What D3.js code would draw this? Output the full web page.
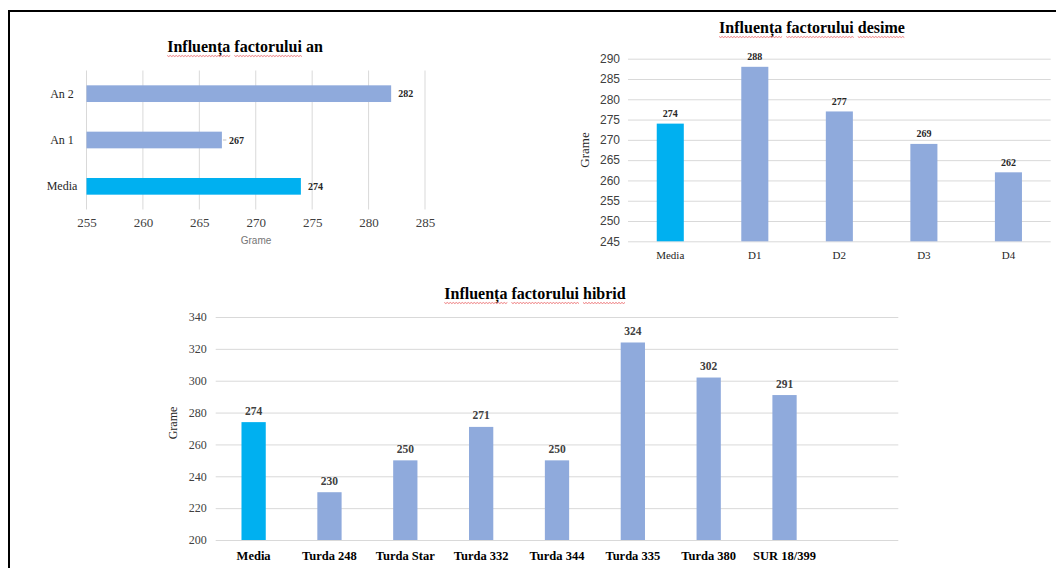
<!DOCTYPE html>
<html>
<head>
  <meta charset="UTF-8">
  <title>Influenta factorilor</title>
  <style>
    body { margin: 0; background: #fff; }
    svg { display: block; }
  </style>
</head>
<body>
  <script src="https://cdn.jsdelivr.net/npm/d3@7"></script>
  <script>
  // factorul an
  let anCategories = ["Media", "An 1", "An 2"];
  let anValues = [274, 267, 282];
  let anTicks = [255, 260, 265, 270, 275, 280, 285];

  // factorul desime
  let desCategories = ["Media", "D1", "D2", "D3", "D4"];
  let desValues = [274, 288, 277, 269, 262];
  let desTicks = [245, 250, 255, 260, 265, 270, 275, 280, 285, 290];

  // factorul hibrid
  let hibCategories = ["Media", "Turda 248", "Turda Star", "Turda 332", "Turda 344", "Turda 335", "Turda 380", "SUR 18/399"];
  let hibValues = [274, 230, 250, 271, 250, 324, 302, 291];
  let hibTicks = [200, 220, 240, 260, 280, 300, 320, 340];

  let serif = "'Liberation Serif', 'Times New Roman', serif";
  let sans = "'Liberation Sans', Arial, sans-serif";
  let cMedia = "#00b0f0", cBar = "#8faadc", cGrid = "#d9d9d9";

  let svg = d3.select("body").append("svg")
    .attr("width", 1056)
    .attr("height", 568);

  // page frame
  svg.append("line").attr("x1", 8).attr("x2", 1056).attr("y1", 11).attr("y2", 11)
    .attr("stroke", "#000").attr("stroke-width", 2);
  svg.append("line").attr("x1", 9).attr("x2", 9).attr("y1", 10).attr("y2", 568)
    .attr("stroke", "#000").attr("stroke-width", 2);

  // title, with the red spell-check squiggle under some words
  function title(x, y, txt, words) {
    let t = svg.append("text")
      .attr("x", x).attr("y", y)
      .attr("text-anchor", "middle")
      .style("font-family", serif).style("font-weight", "bold").style("font-size", "16px")
      .text(txt);
    let node = t.node();
    let x0 = x - node.getComputedTextLength() / 2;
    words.forEach(function (w) {
      let i = txt.indexOf(w);
      let a = x0 + node.getSubStringLength(0, i);
      let b = a + node.getSubStringLength(i, w.length);
      let pts = [];
      for (let p = a, k = 0; p <= b; p += 1.5, k++) pts.push([p, y + 3.5 + (k % 2 ? 1 : 0)]);
      svg.append("path").attr("d", d3.line()(pts))
        .attr("fill", "none").attr("stroke", "#e8585a").attr("stroke-width", 0.8);
    });
  }

  function colorOf(d) { return d === "Media" ? cMedia : cBar; }

  //////// chart 1 : horizontal bars
  let x1 = d3.scaleLinear().domain([255, 285]).range([86.5, 425]);
  let y1 = d3.scaleBand().domain(["An 2", "An 1", "Media"]).range([70.5, 209.5])
    .paddingInner(0.64).paddingOuter(0.32);
  let g1 = svg.append("g");

  g1.selectAll(".grid").data(anTicks).enter().append("line")
    .attr("x1", d => x1(d)).attr("x2", d => x1(d))
    .attr("y1", 70.5).attr("y2", 209.5)
    .attr("stroke", cGrid).attr("stroke-width", 1);

  g1.selectAll(".bar").data(anCategories).enter().append("rect")
    .attr("x", x1(255))
    .attr("y", d => y1(d))
    .attr("width", (d, i) => x1(anValues[i]) - x1(255))
    .attr("height", y1.bandwidth())
    .attr("fill", d => colorOf(d));

  g1.selectAll(".lbl").data(anCategories).enter().append("text")
    .attr("x", (d, i) => x1(anValues[i]) + 7)
    .attr("y", d => y1(d) + y1.bandwidth() / 2 + 3.5)
    .style("font-family", serif).style("font-weight", "bold").style("font-size", "10px")
    .attr("fill", "#262626")
    .text((d, i) => anValues[i]);
  // small leader line near 267
  g1.append("line")
    .attr("x1", x1(267) + 1).attr("x2", x1(267) + 4.5)
    .attr("y1", y1("An 1") + y1.bandwidth() / 2).attr("y2", y1("An 1") + y1.bandwidth() / 2)
    .attr("stroke", "#bfbfbf");

  g1.selectAll(".cat").data(anCategories).enter().append("text")
    .attr("x", 62)
    .attr("y", d => y1(d) + y1.bandwidth() / 2 + 4)
    .attr("text-anchor", "middle")
    .style("font-family", serif).style("font-size", "12px")
    .attr("fill", "#262626")
    .text(d => d);

  let ax1 = g1.append("g")
    .attr("transform", "translate(0,210)")
    .call(d3.axisBottom(x1).tickValues(anTicks).tickSize(0).tickPadding(8));
  ax1.select(".domain").remove();
  ax1.selectAll("text").style("font-family", serif).style("font-size", "13px").attr("fill", "#404040");

  g1.append("text").attr("x", 256).attr("y", 244)
    .attr("text-anchor", "middle")
    .style("font-family", sans).style("font-size", "10px").attr("fill", "#757575")
    .text("Grame");

  title(245, 52, "Influența factorului an", ["Influența", "factorului"]);

  //////// chart 2 : desime
  let x2 = d3.scaleBand().domain(desCategories).range([628, 1050.7])
    .paddingInner(0.68).paddingOuter(0.34);
  let y2 = d3.scaleLinear().domain([245, 290]).range([241.3, 58.7]);
  let g2 = svg.append("g");

  let ay2 = g2.append("g")
    .attr("transform", "translate(628,0)")
    .call(d3.axisLeft(y2).tickValues(desTicks).tickSize(-422.7).tickPadding(8));
  ay2.select(".domain").remove();
  ay2.selectAll("line").attr("stroke", cGrid);
  ay2.selectAll("text").style("font-family", sans).style("font-size", "12px").attr("fill", "#404040");

  g2.selectAll(".bar").data(desCategories).enter().append("rect")
    .attr("x", d => x2(d))
    .attr("y", (d, i) => y2(desValues[i]))
    .attr("width", x2.bandwidth())
    .attr("height", (d, i) => y2(245) - y2(desValues[i]))
    .attr("fill", d => colorOf(d));

  g2.selectAll(".lbl").data(desCategories).enter().append("text")
    .attr("x", d => x2(d) + x2.bandwidth() / 2)
    .attr("y", (d, i) => y2(desValues[i]) - 6.5)
    .attr("text-anchor", "middle")
    .style("font-family", serif).style("font-weight", "bold").style("font-size", "10px")
    .attr("fill", "#262626")
    .text((d, i) => desValues[i]);

  g2.selectAll(".cat").data(desCategories).enter().append("text")
    .attr("x", d => x2(d) + x2.bandwidth() / 2)
    .attr("y", 258.5)
    .attr("text-anchor", "middle")
    .style("font-family", serif).style("font-size", "11px")
    .attr("fill", "#262626")
    .text(d => d);

  g2.append("text")
    .attr("transform", "translate(589,150) rotate(-90)")
    .attr("text-anchor", "middle")
    .style("font-family", serif).style("font-size", "13px").attr("fill", "#262626")
    .text("Grame");

  title(812, 33, "Influența factorului desime", ["Influența", "factorului", "desime"]);

  //////// chart 3 : hibrid (one empty slot at the end, as in the original)
  let x3 = d3.scaleBand().domain(hibCategories.concat([" "])).range([215.7, 898.3])
    .paddingInner(0.68).paddingOuter(0.34);
  let y3 = d3.scaleLinear().domain([200, 340]).range([540, 317]);
  let g3 = svg.append("g");

  let ay3 = g3.append("g")
    .attr("transform", "translate(215.7,0)")
    .call(d3.axisLeft(y3).tickValues(hibTicks).tickSize(-682.6).tickPadding(9));
  ay3.select(".domain").remove();
  ay3.selectAll("line").attr("stroke", cGrid);
  ay3.selectAll("text").style("font-family", serif).style("font-size", "12px").attr("fill", "#404040");

  g3.selectAll(".bar").data(hibCategories).enter().append("rect")
    .attr("x", d => x3(d))
    .attr("y", (d, i) => y3(hibValues[i]))
    .attr("width", x3.bandwidth())
    .attr("height", (d, i) => y3(200) - y3(hibValues[i]))
    .attr("fill", d => colorOf(d));

  g3.selectAll(".lbl").data(hibCategories).enter().append("text")
    .attr("x", d => x3(d) + x3.bandwidth() / 2)
    .attr("y", (d, i) => y3(hibValues[i]) - 7.5)
    .attr("text-anchor", "middle")
    .style("font-family", serif).style("font-weight", "bold").style("font-size", "11.5px")
    .attr("fill", "#404040")
    .text((d, i) => hibValues[i]);

  g3.selectAll(".cat").data(hibCategories).enter().append("text")
    .attr("x", d => x3(d) + x3.bandwidth() / 2)
    .attr("y", 559.5)
    .attr("text-anchor", "middle")
    .style("font-family", serif).style("font-weight", "bold").style("font-size", "12.5px")
    .attr("fill", "#000")
    .text(d => d);

  g3.append("text")
    .attr("transform", "translate(177,423) rotate(-90)")
    .attr("text-anchor", "middle")
    .style("font-family", serif).style("font-size", "12px").attr("fill", "#262626")
    .text("Grame");

  title(535, 299, "Influența factorului hibrid", ["Influența", "factorului", "hibrid"]);
  </script>
</body>
</html>
